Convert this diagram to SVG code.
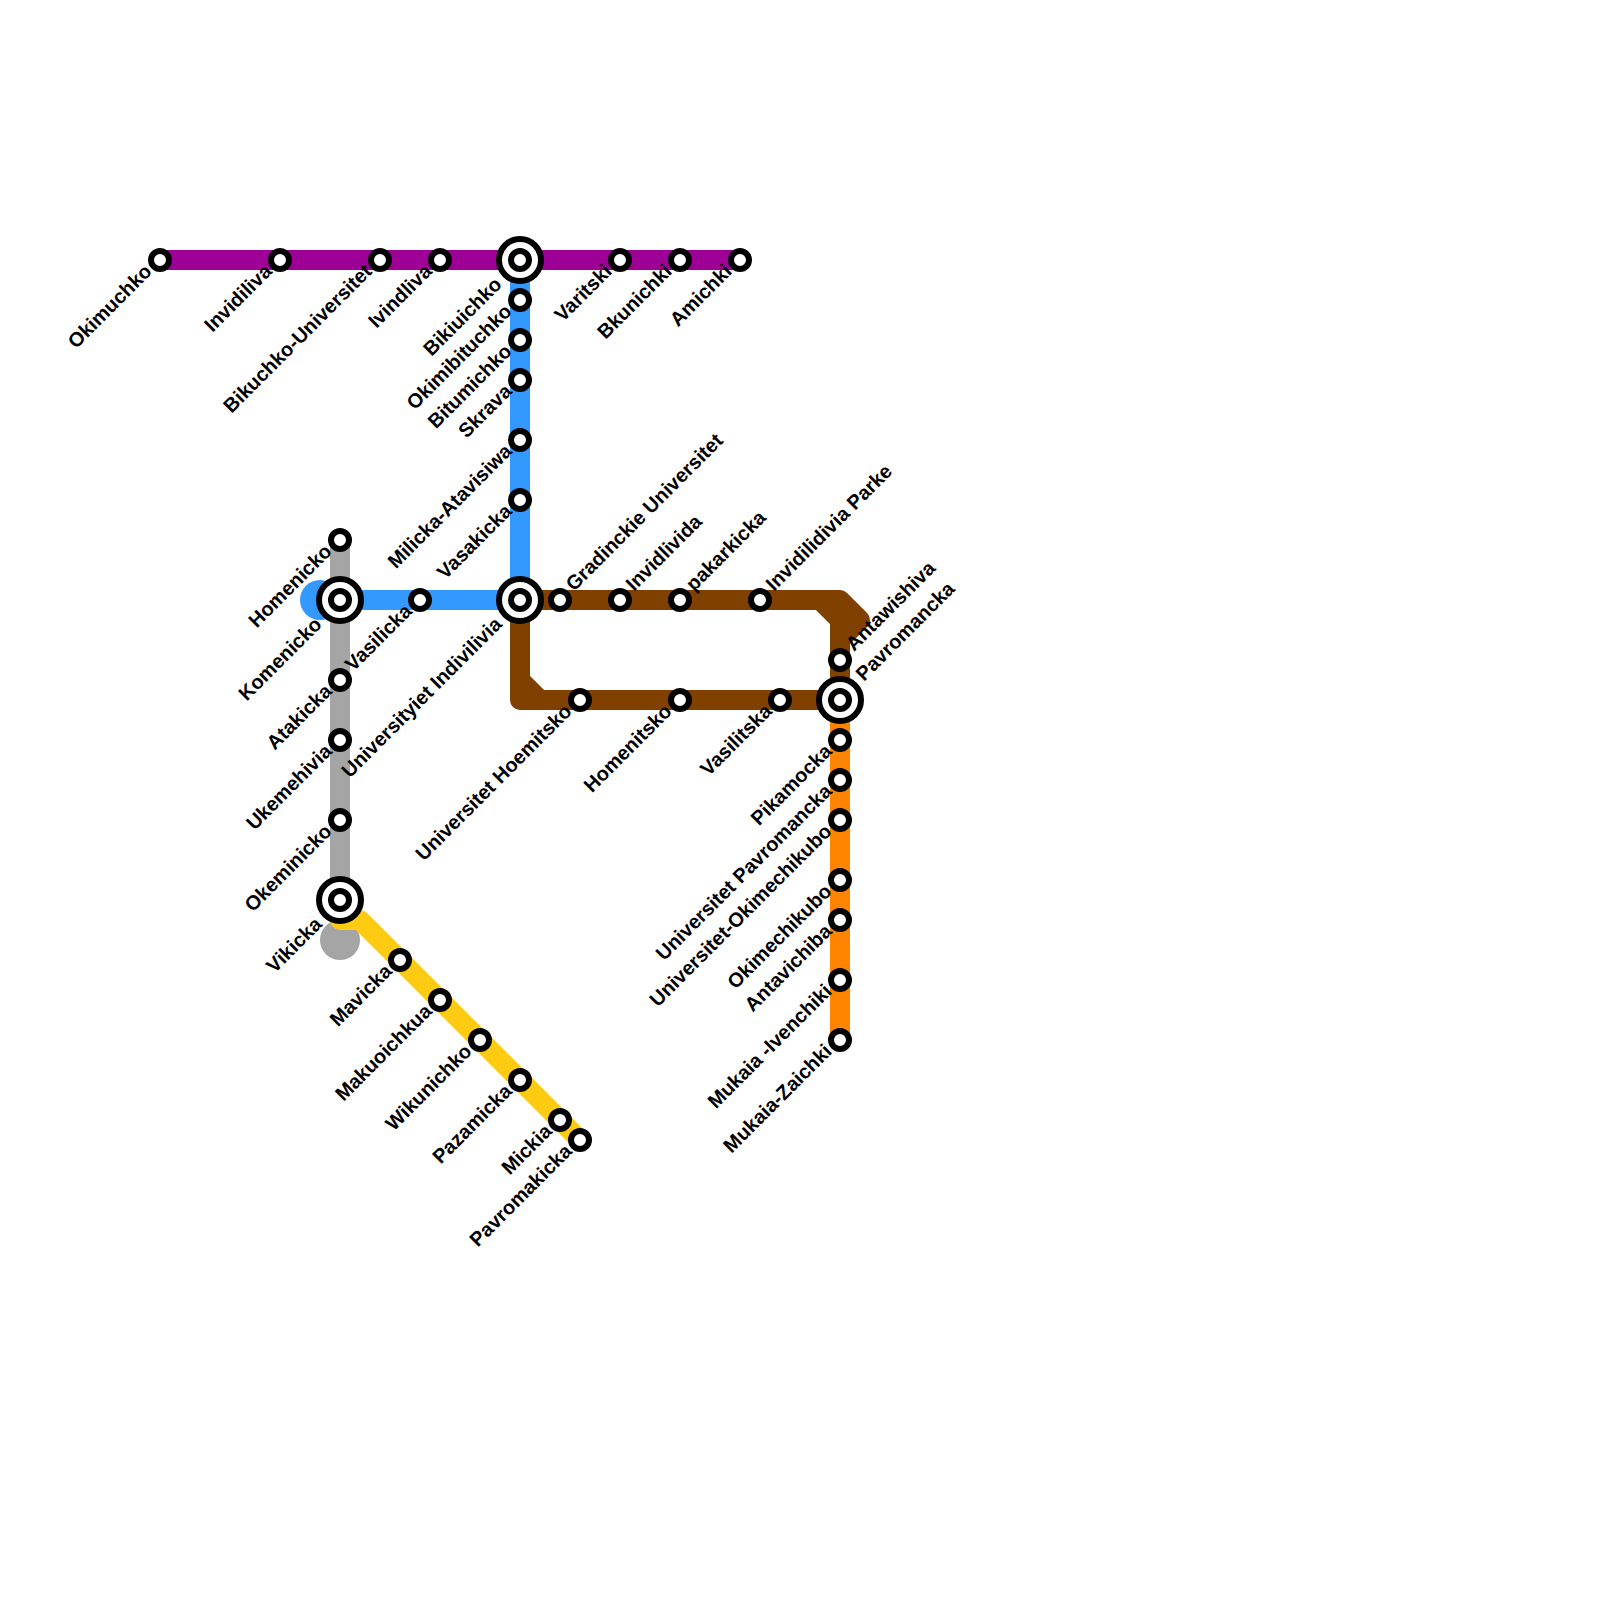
<svg xmlns="http://www.w3.org/2000/svg" width="1600" height="1600" viewBox="0 0 1600 1600">
<style>
.l{fill:none;stroke-width:20;stroke-linecap:round;stroke-linejoin:round}
.s{fill:#fff;stroke:#000;stroke-width:6}
.i{fill:#fff;stroke:#000;stroke-width:6}
text{font-family:"Liberation Sans",Arial,sans-serif;font-weight:700;font-size:20px;fill:#000}
.e{text-anchor:end}
</style>
<defs>
<g id="st"><circle class="s" r="9"/></g>
<g id="ic"><circle class="i" r="21"/><circle class="s" r="9"/></g>
</defs>
<rect width="1600" height="1600" fill="#fff"/>
<g id="connectors">
<path class="l" stroke="#a5a5a5" d="M340 540V940"/>
<circle cx="340" cy="940" r="20" fill="#a5a5a5"/>
<path class="l" stroke="#ffcb12" d="M340 920H360L580 1140"/>
<path class="l" stroke="#3399ff" d="M520 260V600H320"/>
<circle cx="320" cy="600" r="20" fill="#3399ff"/>
<path class="l" stroke="#9e0097" d="M160 260H740"/>
<path class="l" stroke="#ff8500" d="M840 700V1040"/>
<path class="l" stroke="#804000" d="M520 600H840L860 620L840 640V700H520ZM820 600L840 620H860M840 620V640M520 680L540 700"/>
</g>
<g id="n1"><use href="#st" x="160" y="260"/><text class="e" transform="translate(153 272.500) rotate(-45)">Okimuchko</text></g>
<g id="n2"><use href="#st" x="280" y="260"/><text class="e" transform="translate(273 272.500) rotate(-45)">Invidiliva</text></g>
<g id="n3"><use href="#st" x="380" y="260"/><text class="e" transform="translate(373 272.500) rotate(-45)">Bikuchko-Universitet</text></g>
<g id="n4"><use href="#st" x="440" y="260"/><text class="e" transform="translate(433 272.500) rotate(-45)">Ivindliva</text></g>
<g id="n5"><use href="#ic" x="520" y="260"/><text class="e" transform="translate(503 285.500) rotate(-45)">Bikiuichko</text></g>
<g id="n6"><use href="#st" x="620" y="260"/><text class="e" transform="translate(613 272.500) rotate(-45)">Varitski</text></g>
<g id="n7"><use href="#st" x="680" y="260"/><text class="e" transform="translate(673 272.500) rotate(-45)">Bkunichki</text></g>
<g id="n8"><use href="#st" x="740" y="260"/><text class="e" transform="translate(733 272.500) rotate(-45)">Amichki</text></g>
<g id="n9"><use href="#st" x="520" y="300"/><text class="e" transform="translate(513 312.500) rotate(-45)">Okimibituchko</text></g>
<g id="n10"><use href="#st" x="520" y="340"/><text class="e" transform="translate(513 352.500) rotate(-45)">Bitumichko</text></g>
<g id="n11"><use href="#st" x="520" y="380"/><text class="e" transform="translate(513 392.500) rotate(-45)">Skrava</text></g>
<g id="n12"><use href="#st" x="520" y="440"/><text class="e" transform="translate(513 452.500) rotate(-45)">Milicka-Atavisiwa</text></g>
<g id="n13"><use href="#st" x="520" y="500"/><text class="e" transform="translate(513 512.500) rotate(-45)">Vasakicka</text></g>
<g id="n14"><use href="#ic" x="520" y="600"/><text class="e" transform="translate(503 625.500) rotate(-45)">Universityiet Indivilivia</text></g>
<g id="n15"><use href="#st" x="340" y="540"/><text class="e" transform="translate(333 552.500) rotate(-45)">Homenicko</text></g>
<g id="n16"><use href="#ic" x="340" y="600"/><text class="e" transform="translate(323 625.500) rotate(-45)">Komenicko</text></g>
<g id="n17"><use href="#st" x="420" y="600"/><text class="e" transform="translate(413 612.500) rotate(-45)">Vasilicka</text></g>
<g id="n18"><use href="#st" x="340" y="680"/><text class="e" transform="translate(333 692.500) rotate(-45)">Atakicka</text></g>
<g id="n19"><use href="#st" x="340" y="740"/><text class="e" transform="translate(333 752.500) rotate(-45)">Ukemehivia</text></g>
<g id="n20"><use href="#st" x="340" y="820"/><text class="e" transform="translate(333 832.500) rotate(-45)">Okeminicko</text></g>
<g id="n21"><use href="#ic" x="340" y="900"/><text class="e" transform="translate(323 925.500) rotate(-45)">Vikicka</text></g>
<g id="n22"><use href="#st" x="400" y="960"/><text class="e" transform="translate(393 972.500) rotate(-45)">Mavicka</text></g>
<g id="n23"><use href="#st" x="440" y="1000"/><text class="e" transform="translate(433 1012.500) rotate(-45)">Makuoichkua</text></g>
<g id="n24"><use href="#st" x="480" y="1040"/><text class="e" transform="translate(473 1052.500) rotate(-45)">Wikunichko</text></g>
<g id="n25"><use href="#st" x="520" y="1080"/><text class="e" transform="translate(513 1092.500) rotate(-45)">Pazamicka</text></g>
<g id="n26"><use href="#st" x="560" y="1120"/><text class="e" transform="translate(553 1132.500) rotate(-45)">Mickia</text></g>
<g id="n27"><use href="#st" x="580" y="1140"/><text class="e" transform="translate(573 1152.500) rotate(-45)">Pavromakicka</text></g>
<g id="n28"><use href="#st" x="560" y="600"/><text transform="translate(574 592) rotate(-45)">Gradinckie Universitet</text></g>
<g id="n29"><use href="#st" x="620" y="600"/><text transform="translate(634 592) rotate(-45)">Invidlivida</text></g>
<g id="n30"><use href="#st" x="680" y="600"/><text transform="translate(694 592) rotate(-45)">pakarkicka</text></g>
<g id="n31"><use href="#st" x="760" y="600"/><text transform="translate(774 592) rotate(-45)">Invidilidivia Parke</text></g>
<g id="n32"><use href="#st" x="840" y="660"/><text transform="translate(854 652) rotate(-45)">Antawishiva</text></g>
<g id="n33"><use href="#ic" x="840" y="700"/><text transform="translate(864 682) rotate(-45)">Pavromancka</text></g>
<g id="n34"><use href="#st" x="580" y="700"/><text class="e" transform="translate(573 712.500) rotate(-45)">Universitet Hoemitsko</text></g>
<g id="n35"><use href="#st" x="680" y="700"/><text class="e" transform="translate(673 712.500) rotate(-45)">Homenitsko</text></g>
<g id="n36"><use href="#st" x="780" y="700"/><text class="e" transform="translate(773 712.500) rotate(-45)">Vasilitska</text></g>
<g id="n37"><use href="#st" x="840" y="740"/><text class="e" transform="translate(833 752.500) rotate(-45)">Pikamocka</text></g>
<g id="n38"><use href="#st" x="840" y="780"/><text class="e" transform="translate(833 792.500) rotate(-45)">Universitet Pavromancka</text></g>
<g id="n39"><use href="#st" x="840" y="820"/><text class="e" transform="translate(833 832.500) rotate(-45)">Universitet-Okimechikubo</text></g>
<g id="n40"><use href="#st" x="840" y="880"/><text class="e" transform="translate(833 892.500) rotate(-45)">Okimechikubo</text></g>
<g id="n41"><use href="#st" x="840" y="920"/><text class="e" transform="translate(833 932.500) rotate(-45)">Antavichiba</text></g>
<g id="n42"><use href="#st" x="840" y="980"/><text class="e" transform="translate(833 992.500) rotate(-45)">Mukaia -Ivenchiki</text></g>
<g id="n43"><use href="#st" x="840" y="1040"/><text class="e" transform="translate(833 1052.500) rotate(-45)">Mukaia-Zaichki</text></g>
</svg>
